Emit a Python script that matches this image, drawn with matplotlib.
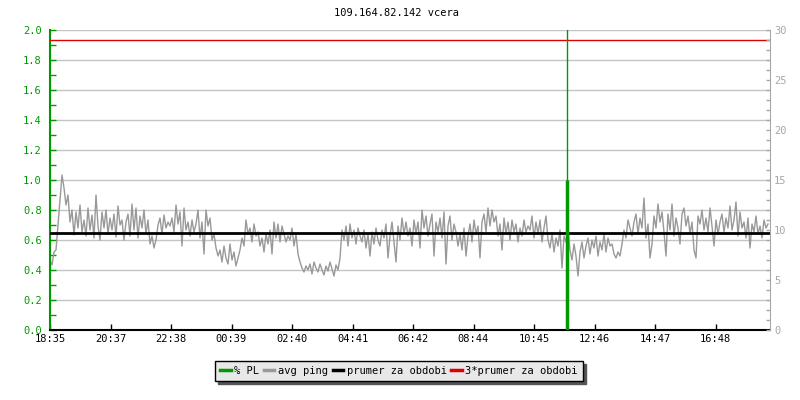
import matplotlib
matplotlib.use("Agg")
import matplotlib.pyplot as plt
import numpy as np
from matplotlib.lines import Line2D
from matplotlib.ticker import FixedLocator, MultipleLocator, FuncFormatter

# --- data -------------------------------------------------------------
TITLE = "109.164.82.142 vcera"
SAMPLE_MIN = 4            # one avg ping sample every 4 minutes
SPAN_MIN = 1440           # 24 h window
TICK_STEP_MIN = 121
TICK_LABELS = ["18:35", "20:37", "22:38", "00:39", "02:40", "04:41",
               "06:42", "08:44", "10:45", "12:46", "14:47", "16:48"]

# avg ping [ms]
ping_1 = [7.0, 6.5, 7.8, 8.0, 10.5, 13.0, 15.5, 14.2, 12.5, 13.5, 10.8, 12.0,
          9.5, 11.8, 10.2, 12.5, 9.8, 11.0, 9.4, 12.2, 10.0, 11.5, 9.2, 13.5,
          10.4, 9.0, 11.8, 10.2, 12.0, 9.6, 11.2, 10.0, 11.6, 9.3, 12.4, 10.5,
          11.0, 9.0, 10.8, 11.6, 9.4, 12.6, 10.0, 12.2, 9.2, 11.4, 10.2, 12.0,
          9.6, 11.0, 8.6, 9.4, 8.2, 9.0, 10.5, 11.2, 9.6, 11.5, 10.2, 10.8]
ping_2 = [10.4, 11.2, 9.8, 12.5, 10.6, 11.8, 8.4, 12.2, 10.0, 10.8, 9.4, 11.0,
          9.8, 10.6, 12.0, 9.2, 10.8, 7.6, 12.0, 10.4, 11.2, 9.0, 9.6, 8.2,
          7.4, 8.0, 6.8, 8.4, 7.2, 6.6, 8.6, 7.0, 7.8, 6.4, 7.2, 8.0,
          9.2, 8.4, 11.0, 9.6, 10.2, 8.8, 10.6, 9.4, 9.8, 8.4, 9.2, 7.8,
          9.6, 8.6, 10.0, 7.6, 10.8, 9.2, 10.6, 8.8, 10.4, 9.6, 8.8, 9.4]
ping_3 = [9.0, 10.2, 8.4, 9.6, 7.6, 6.8, 6.2, 5.8, 6.4, 6.0, 6.6, 5.6,
          6.8, 6.2, 5.8, 6.6, 6.0, 5.5, 6.4, 5.9, 6.8, 6.1, 5.4, 6.5,
          6.0, 7.2, 10.0, 9.0, 10.4, 8.4, 10.6, 9.2, 10.0, 8.6, 10.2, 9.4,
          8.8, 10.0, 8.2, 9.6, 7.4, 9.8, 8.6, 10.2, 9.0, 8.4, 10.0, 9.2,
          10.6, 7.2, 9.4, 10.8, 8.8, 6.8, 10.4, 9.0, 11.2, 9.6, 10.8, 9.4]
ping_4 = [10.2, 8.4, 11.0, 9.6, 10.8, 8.2, 12.0, 10.2, 11.4, 9.4, 10.6, 11.6,
          7.4, 10.8, 9.8, 11.2, 9.2, 11.8, 6.6, 10.4, 11.4, 9.0, 10.6, 9.8,
          8.4, 9.6, 8.0, 10.2, 7.4, 9.4, 10.6, 8.8, 11.0, 9.6, 10.4, 7.2,
          10.8, 11.6, 9.8, 12.2, 10.4, 12.0, 10.8, 11.4, 9.4, 10.6, 8.0, 11.2,
          9.6, 10.8, 9.0, 11.0, 9.8, 10.6, 8.8, 10.2, 9.4, 11.0, 9.8, 10.4]
ping_5 = [10.0, 11.4, 9.2, 10.8, 9.6, 11.0, 8.8, 10.2, 11.4, 9.0, 8.2, 9.6,
          7.8, 9.2, 8.4, 10.0, 6.2, 9.4, 8.8, 10.2, 8.0, 7.0, 8.6, 7.4,
          5.4, 7.8, 8.8, 7.2, 8.4, 9.2, 7.6, 9.0, 8.2, 9.4, 7.4, 8.8,
          8.0, 9.6, 7.8, 9.2, 8.4, 8.6, 7.6, 7.2, 7.8, 7.4, 8.6, 10.0,
          9.2, 11.0, 10.2, 9.4, 10.8, 11.6, 9.6, 11.2, 10.2, 13.2, 9.2, 10.6]
ping_6 = [7.2, 8.6, 11.4, 10.2, 12.6, 10.8, 11.8, 9.8, 7.4, 11.6, 10.0, 12.6,
          9.4, 11.2, 10.2, 8.6, 11.6, 12.2, 10.4, 11.4, 9.6, 10.8, 8.0, 7.2,
          11.4, 10.6, 12.0, 10.0, 11.2, 9.8, 12.2, 10.4, 8.4, 11.0, 9.6, 10.8,
          11.6, 9.8, 11.2, 10.2, 12.4, 10.0, 11.0, 12.8, 9.4, 11.8, 10.2, 10.8,
          9.2, 11.2, 8.2, 10.6, 9.8, 11.4, 9.6, 10.4, 9.2, 11.0, 10.2, 10.6]

avg_ping = ping_1 + ping_2 + ping_3 + ping_4 + ping_5 + ping_6
ping_mean = 9.68          # prumer za obdobi [ms]

# packet loss [%]
pl_time = [1034]
pl_value = [1.0]

# --- style ------------------------------------------------------------
GREEN = "#009a00"
PING_GRAY = "#999999"
GRID_GRAY = "#c4c4c4"
AXIS_GRAY = "#a8a8a8"
RED = "#e00000"
FS = 7.5
PL_MAX = 2.0
PING_MAX = 30.0
PL_SCALE = PING_MAX / PL_MAX   # left axis (% PL) drawn on the ping scale

plt.rcParams.update({
    "font.family": ["DejaVu Sans Mono"],
    "font.size": FS,
})

fig = plt.figure(figsize=(8, 4), dpi=100)
ax = fig.add_axes([50 / 800, 70 / 400, 720 / 800, 300 / 400])

t = np.arange(len(avg_ping)) * SAMPLE_MIN

# grid at left-axis majors
for v in np.arange(0, PL_MAX + 0.01, 0.2):
    ax.axhline(v * PL_SCALE, color=GRID_GRAY, lw=1, zorder=0)

ax.plot(t, avg_ping, color=PING_GRAY, lw=1, zorder=2)
ax.axhline(ping_mean, color="black", lw=2, zorder=3)
ax.axhline(3 * ping_mean, color=RED, lw=1, zorder=3)
ax.axvline(pl_time[0], color=GREEN, lw=1, zorder=4)
ax.vlines(pl_time, 0, np.array(pl_value) * PL_SCALE, color=GREEN, lw=2.5, zorder=4)

ax.set_xlim(0, SPAN_MIN)
ax.set_ylim(0, PING_MAX)

# x axis
ax.xaxis.set_major_locator(FixedLocator(np.arange(len(TICK_LABELS)) * TICK_STEP_MIN))
ax.set_xticklabels(TICK_LABELS)
ax.tick_params(axis="x", direction="in", length=4, width=1, color="black",
               labelcolor="black", pad=3, labelsize=FS)

# left axis (% PL)
ax.yaxis.set_major_locator(MultipleLocator(0.2 * PL_SCALE))
ax.yaxis.set_minor_locator(MultipleLocator(0.1 * PL_SCALE))
ax.yaxis.set_major_formatter(FuncFormatter(lambda v, _: f"{v / PL_SCALE:.1f}"))
ax.tick_params(axis="y", which="both", direction="in", length=4, width=1,
               color=GREEN, labelcolor=GREEN, pad=6, labelsize=FS)

# right axis (avg ping ms)
ax_r = ax.twinx()
ax_r.set_ylim(0, PING_MAX)
ax_r.yaxis.set_major_locator(MultipleLocator(5))
ax_r.yaxis.set_minor_locator(MultipleLocator(1))
ax_r.tick_params(axis="y", which="both", direction="in", length=3, width=1,
                 color=AXIS_GRAY, labelcolor=AXIS_GRAY, pad=3, labelsize=FS)
for side in ("top", "left", "bottom"):
    ax_r.spines[side].set_visible(False)
ax_r.spines["right"].set_color(AXIS_GRAY)

ax.spines["top"].set_visible(False)
ax.spines["right"].set_visible(False)
ax.spines["left"].set_color(GREEN)
ax.spines["left"].set_linewidth(1.5)
ax.spines["bottom"].set_color("black")
ax.spines["bottom"].set_linewidth(1.5)

fig.text(0.495, 1 - 13 / 400, TITLE, ha="center", va="center", fontsize=FS)

handles = [
    Line2D([], [], color=GREEN, lw=2.5),
    Line2D([], [], color=PING_GRAY, lw=2.5),
    Line2D([], [], color="black", lw=2.5),
    Line2D([], [], color=RED, lw=2.5),
]
labels = ["% PL", "avg ping", "prumer za obdobi", "3*prumer za obdobi"]
fig.legend(handles, labels, loc="center", bbox_to_anchor=(399 / 800, 1 - 371 / 400),
           ncol=4, fontsize=FS, frameon=True, fancybox=False,
           facecolor="#e8e8e8", edgecolor="black", framealpha=1,
           shadow={"color": "#555555", "alpha": 1},
           handlelength=1.0, handletextpad=0.35, columnspacing=0.45,
           borderpad=0.5, borderaxespad=0)

fig.savefig("out.png", dpi=100)
